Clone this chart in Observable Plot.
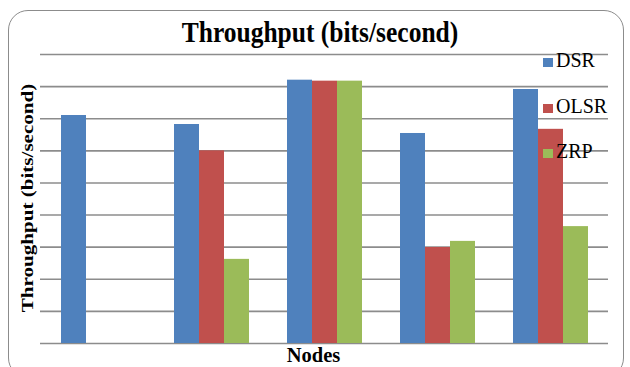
<!DOCTYPE html>
<html><head><meta charset="utf-8">
<script src="https://cdn.jsdelivr.net/npm/d3@7"></script>
<script src="https://cdn.jsdelivr.net/npm/@observablehq/plot@0.6"></script>
<style>
body{margin:0;background:#fff;}
#wrap{position:relative;width:630px;height:367px;overflow:hidden;font-family:"Liberation Serif","Tinos","Times New Roman","DejaVu Serif",serif;color:#000;}
#wrap svg{position:absolute;left:0;top:0;background:transparent;}
.border{position:absolute;left:8px;top:10px;width:616px;height:368px;border:1.5px solid #8c8c8c;border-radius:20px;box-sizing:border-box;}
.title{position:absolute;left:0;width:640px;top:21px;height:26px;line-height:26px;text-align:center;font-weight:bold;font-size:25.5px;transform-origin:50% 21.6px;transform:scaleY(1.15);white-space:nowrap;}
.ylab{position:absolute;left:27.3px;top:198px;line-height:17px;transform:translate(-50%,-50%) rotate(-90deg) scaleX(1.24);white-space:nowrap;font-weight:bold;font-size:17px;}
.xlab{position:absolute;left:0;width:627px;top:346.4px;height:18px;line-height:18px;text-align:center;font-weight:bold;font-size:20.5px;}
.leg{position:absolute;left:543px;font-size:20px;line-height:20px;white-space:nowrap;}
.leg i{display:inline-block;width:10px;height:9px;margin-right:3px;vertical-align:0px;}
</style></head>
<body><div id="wrap"></div>
<script>
const nodes = ["10", "20", "30", "40", "50"];
const series = ["DSR", "OLSR", "ZRP"];
const colors = ["#4F81BD", "#C0504D", "#9BBB59"];
const dsr  = [7.10, 6.82, 8.20, 6.54, 7.91];
const olsr = [0.00, 6.00, 8.17, 2.99, 6.67];
const zrp  = [0.00, 2.62, 8.17, 3.18, 3.64];
const gridTicks = [0, 1, 2, 3, 4, 5, 6, 7, 8, 9];

const values = {DSR: dsr, OLSR: olsr, ZRP: zrp};
const data = [];
nodes.forEach((n, i) => series.forEach(s => data.push({node: n, series: s, value: values[s][i]})));

const common = {width: 630, height: 367, marginLeft: 40, marginRight: 22, marginTop: 54, marginBottom: 24};
const wrap = document.getElementById("wrap");

const bg = Plot.plot({
  ...common,
  y: {domain: [0, 9], axis: null},
  marks: [Plot.ruleY(gridTicks, {stroke: "#8c8c8c", strokeWidth: 1.6})]
});
wrap.appendChild(bg);

const fg = Plot.plot({
  ...common,
  fx: {domain: nodes, paddingInner: 0.34, paddingOuter: 0.17, axis: null, label: null},
  x: {domain: series, padding: 0, axis: null},
  y: {domain: [0, 9], axis: null},
  color: {domain: series, range: colors},
  marks: [Plot.barY(data, {fx: "node", x: "series", y: "value", fill: "series"})]
});
wrap.appendChild(fg);

const add = (cls, html, style) => { const d = document.createElement("div"); d.className = cls; d.innerHTML = html; if (style) d.style.cssText = style; wrap.appendChild(d); };
add("border", "");
add("title", "Throughput (bits/second)");
add("ylab", "Throughput (bits/second)");
add("xlab", "Nodes");
const legTops = [50, 96, 141];
series.forEach((s, i) => add("leg", `<i style="background:${colors[i]}"></i>${s}`, `top:${legTops[i]}px`));
</script></body></html>
